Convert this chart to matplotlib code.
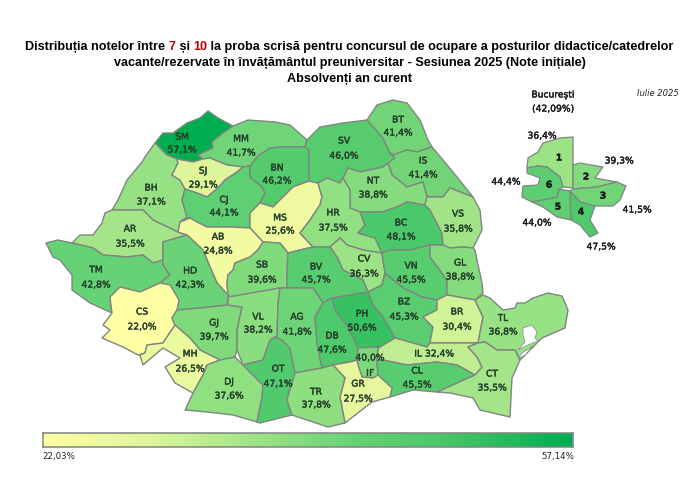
import numpy as np
import matplotlib
matplotlib.use("Agg")
import matplotlib.pyplot as plt
import matplotlib.patheffects as pe
from matplotlib.colors import LinearSegmentedColormap, Normalize
from matplotlib.patches import Polygon

# values per county
COUNTIES = ["SM", "MM", "BH", "SJ", "CJ", "AR", "BN", "MS", "AB", "TM", "HD", "SB", "CS", "GJ", "VL",
            "MH", "DJ", "OT", "SV", "BT", "IS", "NT", "HR", "BC", "VS", "CV", "BV", "VN", "GL", "AG",
            "BZ", "PH", "DB", "BR", "TL", "IL", "IF", "CL", "GR", "TR", "CT"]
VALUES = [57.1, 41.7, 37.1, 29.1, 44.1, 35.5, 46.2, 25.6, 24.8, 42.8, 42.3, 39.6, 22.0, 39.7, 38.2,
          26.5, 37.6, 47.1, 46.0, 41.4, 41.4, 38.8, 37.5, 48.1, 35.8, 36.3, 45.7, 45.5, 38.8, 41.8,
          45.3, 50.6, 47.6, 30.4, 36.8, 32.4, 40.0, 45.5, 27.5, 37.8, 35.5]

SECTORS = ["1", "2", "3", "4", "5", "6"]
SECTOR_VALUES = [36.4, 39.3, 41.5, 47.5, 44.0, 44.4]

VMIN = 22.03
VMAX = 57.14
TICK_LABELS = ["22,03%", "57,14%"]

SHAPES = {
    "SM": [(155,143),(163,133),(173,133),(187,123),(200,118),(208,111),(218,118),(233,126),(223,133),(212,142),(213,148),(198,155),(203,159),(193,162),(177,159),(167,155)],
    "MM": [(233,126),(248,120),(275,122),(290,125),(307,140),(305,147),(283,147),(270,148),(258,156),(250,166),(243,167),(227,165),(210,158),(203,159),(198,155),(213,148),(212,142),(223,133)],
    "SJ": [(203,159),(210,158),(227,165),(243,167),(237,172),(225,180),(218,188),(207,197),(197,193),(185,189),(180,180),(172,175),(178,163),(177,159),(193,162)],
    "BH": [(155,143),(167,155),(177,159),(178,163),(172,175),(180,180),(185,189),(182,200),(187,217),(180,222),(178,232),(153,220),(143,210),(112,210),(118,200),(127,180),(142,162),(145,157)],
    "CJ": [(185,189),(197,193),(207,197),(218,188),(225,180),(237,172),(243,167),(250,166),(250,177),(262,187),(265,193),(260,203),(250,213),(250,228),(230,227),(207,227),(197,222),(190,218),(180,222),(187,217),(182,200)],
    "AR": [(72,243),(80,235),(93,235),(102,223),(105,213),(112,210),(143,210),(153,220),(178,232),(187,235),(163,242),(163,260),(153,263),(143,255),(127,257),(103,255),(93,248)],
    "BN": [(270,148),(283,147),(305,147),(309,150),(309,181),(293,187),(283,197),(273,207),(260,203),(265,193),(262,187),(250,177),(250,166),(258,156)],
    "MS": [(260,203),(273,207),(283,197),(293,187),(309,181),(318,183),(322,197),(320,205),(310,220),(300,233),(313,247),(300,250),(288,253),(280,243),(263,242),(250,228),(250,213)],
    "AB": [(180,222),(190,218),(197,222),(207,227),(230,227),(250,228),(263,242),(258,250),(250,257),(235,263),(233,270),(228,275),(227,283),(228,295),(217,283),(210,267),(203,250),(187,235),(178,232)],
    "TM": [(46,243),(58,240),(72,243),(93,248),(103,255),(127,257),(143,255),(153,263),(163,260),(163,265),(170,275),(160,283),(140,292),(120,287),(110,297),(112,313),(90,303),(72,290),(72,275),(60,260),(53,257)],
    "HD": [(187,235),(203,250),(210,267),(217,283),(228,295),(227,305),(200,308),(177,310),(179,300),(170,285),(160,283),(170,275),(163,265),(163,242)],
    "SB": [(233,270),(235,263),(250,257),(258,250),(263,242),(280,243),(288,253),(287,273),(287,288),(280,288),(230,297),(228,295),(227,283),(228,275)],
    "CS": [(110,297),(120,287),(140,292),(160,283),(170,285),(179,300),(177,310),(172,318),(175,325),(163,343),(147,345),(145,353),(138,355),(123,347),(102,338),(110,330),(103,325),(112,313)],
    "GJ": [(172,318),(177,310),(200,308),(227,305),(242,307),(237,330),(237,350),(235,357),(220,360),(200,350),(190,338),(183,332),(175,325)],
    "VL": [(228,297),(280,288),(278,303),(277,338),(275,337),(270,340),(263,360),(243,365),(237,350),(237,330),(242,307),(228,305)],
    "MH": [(175,325),(183,332),(190,338),(200,350),(220,360),(207,365),(203,375),(193,393),(175,383),(165,367),(180,358),(163,348),(143,365),(140,355),(145,353),(147,345),(163,343)],
    "DJ": [(220,360),(235,357),(243,365),(263,385),(262,397),(257,422),(233,415),(207,412),(185,410),(193,393),(203,375),(207,365)],
    "OT": [(243,365),(263,360),(270,340),(275,337),(282,340),(290,348),(295,373),(287,400),(292,415),(260,423),(257,422),(262,397),(263,385)],
    "SV": [(307,140),(320,127),(343,123),(367,120),(383,138),(390,153),(395,158),(388,163),(383,167),(360,172),(348,168),(343,178),(340,183),(327,178),(318,183),(309,181),(309,150),(305,147)],
    "BT": [(367,120),(377,105),(393,100),(407,103),(420,120),(428,140),(432,147),(417,152),(407,150),(393,155),(390,153),(383,138)],
    "IS": [(395,158),(390,153),(393,155),(407,150),(417,152),(432,147),(443,160),(457,177),(473,197),(450,188),(443,197),(427,197),(423,182),(407,187),(392,175),(388,163)],
    "NT": [(343,178),(348,168),(360,172),(383,167),(388,163),(392,175),(407,187),(423,182),(427,197),(425,205),(407,202),(397,207),(382,212),(360,212),(350,208),(350,190)],
    "HR": [(318,183),(327,178),(340,183),(343,178),(350,190),(350,208),(360,212),(365,225),(358,233),(375,238),(382,253),(363,250),(347,245),(340,238),(330,247),(313,247),(300,233),(310,220),(320,205),(322,197)],
    "BC": [(360,212),(382,212),(397,207),(407,202),(425,205),(430,210),(442,233),(443,245),(430,245),(410,250),(390,250),(382,253),(375,238),(358,233),(365,225)],
    "VS": [(427,197),(443,197),(450,188),(473,197),(480,210),(482,230),(473,248),(463,247),(450,248),(443,245),(442,233),(430,210),(425,205)],
    "GL": [(430,245),(443,245),(450,248),(463,247),(473,248),(475,250),(477,260),(482,283),(483,293),(475,300),(447,295),(447,280),(430,257)],
    "VN": [(382,253),(390,250),(410,250),(430,245),(430,257),(447,280),(447,295),(437,300),(422,297),(403,288),(385,273),(383,260)],
    "CV": [(330,247),(340,238),(347,245),(363,250),(382,253),(383,260),(385,273),(382,285),(368,292),(363,280),(343,270),(337,257)],
    "BV": [(288,253),(300,250),(313,247),(330,247),(337,257),(343,270),(363,280),(368,292),(332,298),(323,303),(313,288),(287,288),(287,273)],
    "AG": [(280,288),(313,288),(323,303),(315,317),(317,343),(322,368),(295,373),(290,348),(282,340),(275,337),(277,338),(278,303)],
    "BZ": [(368,292),(382,285),(385,273),(403,288),(422,297),(437,300),(437,310),(423,317),(433,327),(430,343),(427,347),(395,338),(383,317),(373,305)],
    "PH": [(332,298),(368,292),(373,305),(383,317),(395,338),(380,347),(358,348),(348,327),(335,310)],
    "DB": [(323,303),(332,298),(335,310),(348,327),(358,348),(357,360),(350,362),(333,365),(322,368),(317,343),(315,317)],
    "BR": [(447,295),(475,300),(483,317),(478,343),(430,343),(433,327),(423,317),(437,310),(437,300)],
    "TL": [(475,300),(483,295),(490,298),(503,310),(515,308),(517,303),(525,303),(533,298),(548,293),(562,296),(568,310),(565,328),(542,338),(533,347),(520,360),(515,350),(497,350),(485,342),(478,343),(483,317)],
    "IL": [(378,348),(380,347),(395,338),(427,347),(430,343),(478,343),(468,347),(477,357),(482,367),(475,375),(457,365),(437,362),(407,365),(383,360),(377,360)],
    "IF": [(358,348),(380,347),(378,348),(377,360),(378,375),(373,378),(362,377),(358,365),(357,360)],
    "CL": [(377,360),(383,360),(407,365),(437,362),(457,365),(475,375),(437,392),(413,390),(390,397),(392,388),(378,375)],
    "GR": [(333,365),(350,362),(357,360),(358,365),(362,377),(373,378),(378,375),(392,388),(390,397),(372,402),(345,423),(340,397),(345,378)],
    "TR": [(295,373),(322,368),(333,365),(345,378),(340,397),(345,423),(328,427),(307,420),(292,415),(287,400)],
    "CT": [(475,375),(482,367),(477,357),(468,347),(478,343),(485,342),(497,350),(515,350),(520,360),(512,378),(510,417),(480,410),(473,398),(450,393),(437,392)],
}

SECTOR_SHAPES = {
    "1": [(528,158),(538,152),(543,143),(560,138),(573,137),(573,162),(573,188),(563,187),(560,177),(547,167),(538,166),(527,168)],
    "2": [(573,165),(580,163),(603,167),(595,178),(617,182),(597,187),(573,189)],
    "3": [(573,189),(597,187),(617,182),(626,186),(620,200),(613,206),(595,206),(580,202),(570,191)],
    "4": [(570,191),(580,202),(595,206),(590,220),(598,233),(590,237),(580,225),(571,220),(570,203)],
    "5": [(559,189),(570,191),(570,203),(571,220),(557,217),(543,207),(532,202),(557,197)],
    "6": [(527,168),(538,166),(547,167),(560,177),(563,187),(559,189),(557,197),(532,202),(522,197),(523,186),(538,185),(540,178),(527,173)],
}

# white lagoons cut out of the Danube delta
LAKES = [
    [(523,328),(532,325),(537,332),(535,338),(538,341),(528,345),(518,350),(525,342),(523,335)],
    [(533,346),(522,353),(518,359),(525,355)],
]

# label anchors, code line then value line
LABEL_POS = {
    "SM": (182,137,150), "MM": (241,139,153), "BH": (151,188,202), "SJ": (203,171,185), "CJ": (224,200,213),
    "AR": (130,229,244), "BN": (277,168,181), "MS": (280,218,231), "AB": (218,237,251), "TM": (96,270,285),
    "HD": (190,271,285), "SB": (262,265,280), "CS": (142,312,327), "GJ": (214,323,337), "VL": (258,317,330),
    "MH": (190,354,369), "DJ": (229,382,396), "OT": (278,369,384), "SV": (344,141,156), "BT": (398,120,133),
    "IS": (423,161,175), "NT": (373,181,195), "HR": (333,213,228), "BC": (401,223,237), "VS": (458,214,229),
    "CV": (364,259,274), "BV": (316,267,280), "VN": (411,266,280), "GL": (460,263,277), "AG": (297,317,332),
    "BZ": (404,302,317), "PH": (362,314,328), "DB": (332,336,350), "BR": (457,312,327), "TL": (503,318,332),
    "CL": (417,371,385), "GR": (358,384,399), "TR": (316,392,405), "CT": (492,374,388),
}
SECTOR_POS = {"1": (559,158), "2": (586,177), "3": (603,196), "4": (581,212), "5": (558,207), "6": (549,185)}
SECTOR_VALUE_POS = {"1": (542,136), "2": (619,161), "3": (637,210), "4": (601,247), "5": (537,223), "6": (506,182)}

cmap = LinearSegmentedColormap.from_list(
    "note",
    [(0.0, "#FFFFA5"), (0.2, "#DFF59C"), (0.33, "#B5EA8E"), (0.45, "#8DDF80"),
     (0.6, "#64D175"), (0.75, "#4AC86A"), (1.0, "#00AE50")],
)
norm = Normalize(VMIN, VMAX)

EDGE = "#7f8580"
TEXT = "#27402c"
BOLDISH = [pe.withStroke(linewidth=0.3, foreground=TEXT)]


def pct(v):
    return f"{v:.1f}".replace(".", ",") + "%"


def title_line(ax, y, runs):
    # centre a line made of differently coloured pieces
    renderer = ax.figure.canvas.get_renderer()
    pieces = [ax.text(0, y, s, color=c, fontsize=9.05, fontweight="bold", family="Liberation Sans", va="center", ha="left") for s, c in runs]
    widths = [p.get_window_extent(renderer).width for p in pieces]
    x = 349.5 - sum(widths) / 2
    for p, w in zip(pieces, widths):
        p.set_x(x)
        x += w


fig = plt.figure(figsize=(7, 4.96), dpi=100)
ax = fig.add_axes([0, 0, 1, 1])
ax.set_xlim(0, 700)
ax.set_ylim(496, 0)
ax.axis("off")

for code, value in zip(COUNTIES, VALUES):
    ax.add_patch(Polygon(SHAPES[code], closed=True, facecolor=cmap(norm(value)), edgecolor=EDGE, linewidth=1.0, joinstyle="round"))
for lake in LAKES:
    ax.add_patch(Polygon(lake, closed=True, facecolor="white", edgecolor=EDGE, linewidth=0.5))
for code, value in zip(SECTORS, SECTOR_VALUES):
    ax.add_patch(Polygon(SECTOR_SHAPES[code], closed=True, facecolor=cmap(norm(value)), edgecolor=EDGE, linewidth=0.9, joinstyle="round"))

lab = dict(fontsize=6.6, color=TEXT, ha="center", va="center", family="DejaVu Sans", path_effects=BOLDISH)
for code, value in zip(COUNTIES, VALUES):
    if code in LABEL_POS:
        x, y1, y2 = LABEL_POS[code]
        ax.text(x, y1, code, **lab)
        ax.text(x, y2, pct(value), **lab)
    elif code == "IL":
        ax.text(434, 354, "IL " + pct(value), **lab)
    elif code == "IF":
        ax.text(370, 358, pct(value), **lab)
        ax.text(370, 373, "IF", **lab)

black = dict(fontsize=6.6, color="#1c1c1c", ha="center", va="center", family="DejaVu Sans",
             path_effects=[pe.withStroke(linewidth=0.3, foreground="#1c1c1c")])
for code, value in zip(SECTORS, SECTOR_VALUES):
    ax.text(*SECTOR_POS[code], code, fontweight="bold", **black)
    ax.text(*SECTOR_VALUE_POS[code], pct(value), **black)
ax.text(553, 95, "București", **black)
ax.text(553, 109, "(42,09%)", **black)
ax.text(658, 93, "Iulie 2025", fontsize=6, style="italic", color="#222222", ha="center", va="center", family="DejaVu Sans")

title_line(ax, 47, [("Distribuția notelor între ", "black"), ("7", "#c00000"), (" și ", "black"), ("10", "#c00000"),
                    (" la proba scrisă pentru concursul de ocupare a posturilor didactice/catedrelor", "black")])
title_line(ax, 63, [("vacante/rezervate în învățământul preuniversitar - Sesiunea 2025 (Note inițiale)", "black")])
title_line(ax, 79, [("Absolvenți an curent", "black")])

# colour scale bar
cax = fig.add_axes([43 / 700, 1 - 447 / 496, 530 / 700, 14 / 496])
gradient = np.linspace(VMIN, VMAX, 256).reshape(1, -1)
cax.imshow(gradient, aspect="auto", cmap=cmap, norm=norm)
cax.set_xticks([])
cax.set_yticks([])
for spine in cax.spines.values():
    spine.set_edgecolor(EDGE)
    spine.set_linewidth(1.1)

ax.text(42, 457, TICK_LABELS[0], fontsize=6.2, color="#222222", ha="left", va="center", family="DejaVu Sans")
ax.text(574, 457, TICK_LABELS[1], fontsize=6.2, color="#222222", ha="right", va="center", family="DejaVu Sans")

fig.savefig("out.png", dpi=100, facecolor="white")
plt.close(fig)
